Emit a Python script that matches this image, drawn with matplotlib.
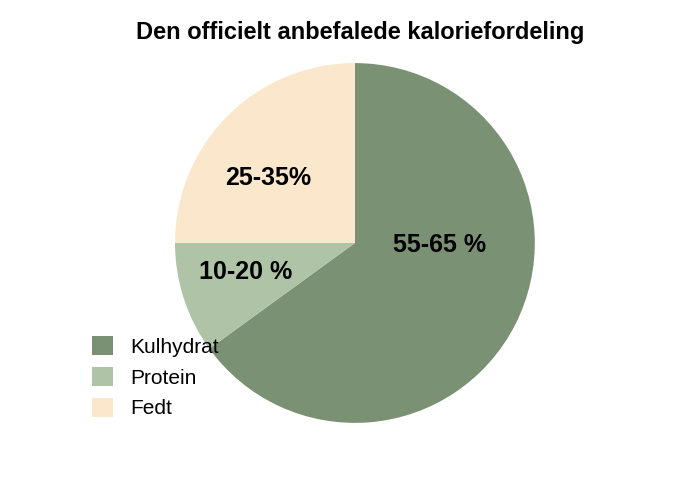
import matplotlib.pyplot as plt

categories = ["Kulhydrat", "Protein", "Fedt"]
shares = [65, 10, 25]
labels = ["55-65 %", "10-20 %", "25-35%"]
colors = ["#7a9173", "#afc4a6", "#fbe8cc"]

plt.rcParams["font.family"] = ["Liberation Sans", "DejaVu Sans"]

fig = plt.figure(figsize=(7, 5), dpi=100)
ax = fig.add_axes([0.25, 0.154, 0.514, 0.72])
wedges, _ = ax.pie(shares, colors=colors, startangle=90, counterclock=False)
ax.set_aspect("equal")
ax.set_xlim(-1, 1)
ax.set_ylim(-1, 1)

# label positions in data coords (pie radius = 1)
label_pos = [(0.47, -0.01), (-0.61, -0.16), (-0.48, 0.36)]
for (x, y), txt in zip(label_pos, labels):
    ax.text(x, y, txt, ha="center", va="center", fontsize=18, fontweight="bold")

fig.text(0.515, 0.935, "Den officielt anbefalede kaloriefordeling",
         ha="center", va="center", fontsize=17, fontweight="bold")

ax.legend(wedges, categories, loc="upper left", bbox_to_anchor=(0.105, 0.365),
          bbox_transform=fig.transFigure, frameon=False,
          prop={"family": ["Liberation Sans Narrow", "Liberation Sans"], "size": 15},
          handlelength=1.0, handleheight=1.0, labelspacing=0.5)

fig.savefig("out.png", dpi=100)
